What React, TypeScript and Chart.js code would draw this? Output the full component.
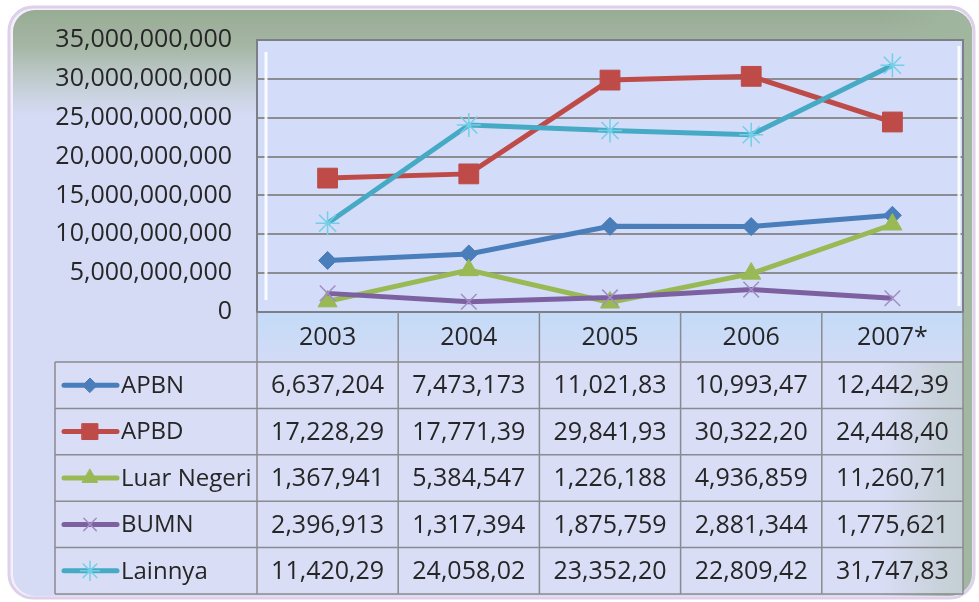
import React, { useEffect, useRef } from 'react';
import { Chart, registerables } from 'chart.js';
import { drawPoint } from 'chart.js/helpers';

Chart.register(...registerables);

// ---- data ----
const years = ['2003', '2004', '2005', '2006', '2007*'];
const seriesNames = ['APBN', 'APBD', 'Luar Negeri', 'BUMN', 'Lainnya'];
const apbn = [6637204000, 7473173000, 11021830000, 10993470000, 12442390000];
const apbd = [17228290000, 17771390000, 29841930000, 30322200000, 24448400000];
const luarNegeri = [1367941000, 5384547000, 1226188000, 4936859000, 11260710000];
const bumn = [2396913000, 1317394000, 1875759000, 2881344000, 1775621000];
const lainnya = [11420290000, 24058020000, 23352200000, 22809420000, 31747830000];
const yMin = 0;
const yMax = 35000000000;
const yStep = 5000000000;

// ---- styles ----
const seriesData = [apbn, apbd, luarNegeri, bumn, lainnya];
const seriesColors = ['#4a7ebb', '#be4b48', '#98b954', '#7d60a0', '#46aac5'];
const markerColors = ['#4a7ebb', '#be4b48', '#98b954', '#a48cc4', '#72cfe6'];
const pointStyles = ['rectRot', 'rect', 'triangle', 'crossRot', 'star'];
const pointRadii = [9, 14, 11, 11, 12];
const pointBorderWidths = [1, 1, 1, 1.5, 1.5];

const FONT = '"Open Sans", "Noto Sans", sans-serif';
const TEXT = '#262626';

// table cells show value in thousands, clipped to the cell width (9 chars)
const cellText = (v: number) => Math.round(v / 1000).toLocaleString('en-US').slice(0, 9);

function roundRectPath(ctx: CanvasRenderingContext2D, x: number, y: number, w: number, h: number, r: number) {
  ctx.beginPath();
  ctx.moveTo(x + r, y);
  ctx.arcTo(x + w, y, x + w, y + h, r);
  ctx.arcTo(x + w, y + h, x, y + h, r);
  ctx.arcTo(x, y + h, x, y, r);
  ctx.arcTo(x, y, x + w, y, r);
  ctx.closePath();
}

const TABLE_LEFT = 55;
const HEADER_BOTTOM = 362;
const TABLE_BOTTOM = 594;

const framePlugin = {
  id: 'frame',
  beforeDraw(chart: any) {
    const { ctx, chartArea } = chart;
    const W = chart.width;
    const H = chart.height;
    ctx.save();
    ctx.fillStyle = '#ffffff';
    ctx.fillRect(0, 0, W, H);
    // outer rim
    roundRectPath(ctx, 9, 7, W - 14, H - 11, 24);
    ctx.fillStyle = '#f4eff8';
    ctx.fill();
    ctx.lineWidth = 3;
    ctx.strokeStyle = '#ddd0ea';
    ctx.stroke();
    // inner panel
    roundRectPath(ctx, 13, 10, W - 20, H - 16, 22);
    ctx.save();
    ctx.clip();
    ctx.fillStyle = '#d5dbf4';
    ctx.fillRect(0, 0, W, H);
    const gTop = ctx.createLinearGradient(0, 10, 0, 115);
    gTop.addColorStop(0, 'rgba(152,172,148,1)');
    gTop.addColorStop(0.35, 'rgba(160,178,156,0.9)');
    gTop.addColorStop(1, 'rgba(175,190,170,0)');
    ctx.fillStyle = gTop;
    ctx.fillRect(0, 0, W, 115);
    const gRight = ctx.createLinearGradient(880, 0, W - 6, 0);
    gRight.addColorStop(0, 'rgba(160,182,158,0)');
    gRight.addColorStop(0.7, 'rgba(160,182,158,0.85)');
    gRight.addColorStop(1, 'rgba(160,182,158,1)');
    ctx.fillStyle = gRight;
    ctx.fillRect(880, 0, W, H);
    ctx.restore();
    // plot area
    ctx.fillStyle = '#d3dcf9';
    ctx.fillRect(chartArea.left, chartArea.top, chartArea.right - chartArea.left, chartArea.bottom - chartArea.top);
    // header row of table
    const gH = ctx.createLinearGradient(0, chartArea.bottom, 0, HEADER_BOTTOM);
    gH.addColorStop(0, '#c3dbf7');
    gH.addColorStop(1, '#d3dbf6');
    ctx.fillStyle = gH;
    ctx.fillRect(chartArea.left, chartArea.bottom, chartArea.right - chartArea.left, HEADER_BOTTOM - chartArea.bottom);
    // table body
    ctx.fillStyle = 'rgba(220,224,246,0.6)';
    ctx.fillRect(TABLE_LEFT, HEADER_BOTTOM, chartArea.right - TABLE_LEFT, TABLE_BOTTOM - HEADER_BOTTOM);
    ctx.restore();
  },
  beforeDatasetsDraw(chart: any) {
    const { ctx, chartArea } = chart;
    ctx.save();
    // white highlights inside plot
    ctx.strokeStyle = 'rgba(255,255,255,0.9)';
    ctx.lineWidth = 3;
    ctx.beginPath();
    ctx.moveTo(chartArea.left + 9, chartArea.top + 12);
    ctx.lineTo(chartArea.left + 9, chartArea.bottom - 12);
    ctx.moveTo(chartArea.right - 4, chartArea.top + 6);
    ctx.lineTo(chartArea.right - 4, chartArea.bottom - 6);
    ctx.stroke();
    // plot border
    ctx.strokeStyle = '#7d7f86';
    ctx.lineWidth = 2;
    ctx.strokeRect(chartArea.left, chartArea.top, chartArea.right - chartArea.left, chartArea.bottom - chartArea.top);
    ctx.restore();
  },
  afterDraw(chart: any) {
    const { ctx, chartArea } = chart;
    const xs = chart.scales.x;
    const n = years.length;
    const colW = (chartArea.right - chartArea.left) / n;
    const rowH = (TABLE_BOTTOM - HEADER_BOTTOM) / seriesNames.length;
    ctx.save();
    // grid lines of table
    ctx.strokeStyle = '#8a8b90';
    ctx.lineWidth = 1.5;
    ctx.beginPath();
    for (let k = 0; k <= seriesNames.length; k++) {
      const y = HEADER_BOTTOM + k * rowH;
      ctx.moveTo(TABLE_LEFT, y);
      ctx.lineTo(chartArea.right, y);
    }
    ctx.moveTo(TABLE_LEFT, HEADER_BOTTOM);
    ctx.lineTo(TABLE_LEFT, TABLE_BOTTOM);
    for (let i = 0; i <= n; i++) {
      const x = chartArea.left + i * colW;
      ctx.moveTo(x, chartArea.bottom);
      ctx.lineTo(x, TABLE_BOTTOM);
    }
    ctx.stroke();

    ctx.fillStyle = TEXT;
    ctx.textBaseline = 'middle';
    ctx.textAlign = 'center';
    // header years
    ctx.font = `25px ${FONT}`;
    years.forEach((yr, i) => {
      ctx.fillText(yr, xs.getPixelForValue(i), (chartArea.bottom + HEADER_BOTTOM) / 2 + 1);
    });
    // rows
    seriesNames.forEach((name, s) => {
      const cy = HEADER_BOTTOM + (s + 0.5) * rowH;
      // legend key
      ctx.strokeStyle = seriesColors[s];
      ctx.lineWidth = 5;
      ctx.lineCap = 'round';
      ctx.beginPath();
      ctx.moveTo(64, cy);
      ctx.lineTo(117, cy);
      ctx.stroke();
      ctx.fillStyle = seriesColors[s];
      ctx.strokeStyle = markerColors[s];
      ctx.lineWidth = pointBorderWidths[s];
      drawPoint(ctx, {
        pointStyle: pointStyles[s],
        radius: pointRadii[s] * 0.8,
        rotation: 0,
        borderWidth: pointBorderWidths[s],
      } as any, 90, cy);
      ctx.fillStyle = TEXT;
      ctx.textAlign = 'left';
      ctx.font = `24px ${FONT}`;
      ctx.fillText(name, 121, cy + 1);
      ctx.textAlign = 'center';
      ctx.font = `25px ${FONT}`;
      seriesData[s].forEach((v, i) => {
        ctx.fillText(cellText(v), xs.getPixelForValue(i), cy + 1);
      });
    });
    ctx.restore();
  },
};

export default function App() {
  const canvasRef = useRef<HTMLCanvasElement | null>(null);

  useEffect(() => {
    const canvas = canvasRef.current;
    if (!canvas) return;
    const chart = new Chart(canvas, {
      type: 'line',
      data: {
        labels: years,
        datasets: seriesNames.map((name, s) => ({
          label: name,
          data: seriesData[s],
          borderColor: seriesColors[s],
          backgroundColor: seriesColors[s],
          borderWidth: 5,
          pointStyle: pointStyles[s] as any,
          pointRadius: pointRadii[s],
          pointBackgroundColor: seriesColors[s],
          pointBorderColor: markerColors[s],
          pointBorderWidth: pointBorderWidths[s],
          tension: 0,
          fill: false,
          order: seriesNames.length - 1 - s,
          clip: false as any,
        })),
      },
      options: {
        responsive: false,
        animation: false,
        devicePixelRatio: 1,
        layout: { padding: { left: 0, top: 39, right: 16, bottom: 290 } },
        plugins: {
          legend: { display: false },
          tooltip: { enabled: false },
          title: { display: false },
        },
        scales: {
          x: {
            type: 'category',
            display: false,
            offset: true,
          },
          y: {
            min: yMin,
            max: yMax,
            afterFit(scale: any) {
              scale.width = 257;
            },
            ticks: {
              stepSize: yStep,
              padding: 25,
              color: TEXT,
              font: { family: FONT, size: 25 },
              callback: (v: any) => Number(v).toLocaleString('en-US'),
            },
            grid: {
              color: '#8c8d93',
              lineWidth: 2,
              drawTicks: false,
            },
            border: { display: false },
          },
        },
      },
      plugins: [framePlugin],
    });
    return () => chart.destroy();
  }, []);

  return (
    <div style={{ position: 'absolute', left: 0, top: 0, width: 979, height: 602 }}>
      <canvas ref={canvasRef} width={979} height={602} style={{ display: 'block', width: 979, height: 602 }} />
    </div>
  );
}
